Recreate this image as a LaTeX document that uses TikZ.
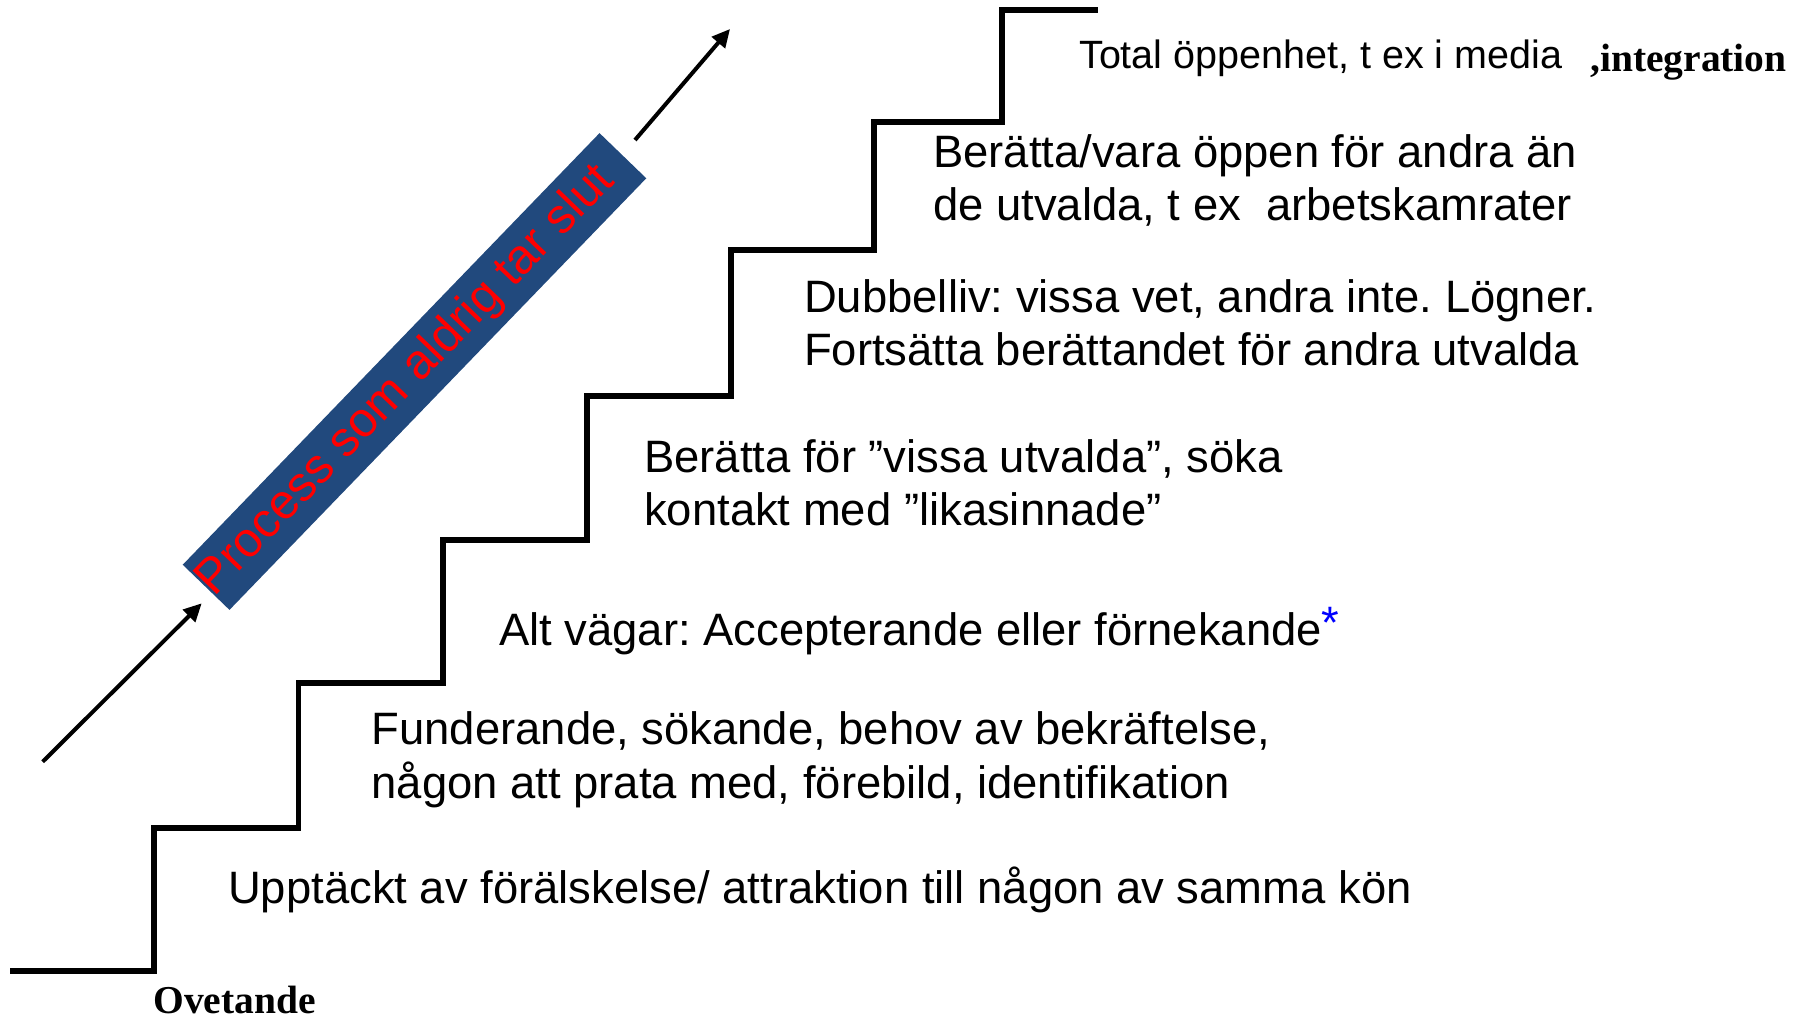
\documentclass[tikz,border=0pt]{standalone}
\usepackage{fontspec}
\setmainfont{Liberation Sans}
\newfontfamily\serifbold{Liberation Serif}[UprightFont=* Bold]
\usetikzlibrary{arrows.meta}
\definecolor{bannerblue}{RGB}{33,73,125}
\frenchspacing
\tikzset{
  stair/.style={line width=5.5pt, line join=miter, line cap=butt},
  arr/.style={line width=4pt, -{Triangle[length=18pt,width=17pt]}},
  txt/.style={anchor=base west, inner sep=0pt, align=left, font=\fontsize{45.4}{53.5}\selectfont\frenchspacing},
  smalltxt/.style={anchor=base west, inner sep=0pt, font=\fontsize{39.5}{47}\selectfont\frenchspacing},
  boldtxt/.style={anchor=base west, inner sep=0pt, font=\fontsize{39.5}{47}\serifbold},
  banner/.style={fill=bannerblue, rotate=46, minimum width=600pt, minimum height=65pt, inner sep=0pt},
  bannertext/.style={text=red, rotate=46, inner sep=0pt, font=\fontsize{49}{52}\selectfont}
}
\begin{document}
\begin{tikzpicture}[x=1pt,y=-1pt]
\useasboundingbox (0,0) rectangle (1803,1018);
% stairs
\draw[stair] (10,971) -- (154,971) -- (154,828) -- (298.5,828) -- (298.5,683) -- (443,683) -- (443,540) -- (587,540) -- (587,396) -- (731,396) -- (731,250) -- (874,250) -- (874,122) -- (1002,122) -- (1002,10) -- (1098,10);
% banner
\node[banner] (ban) at (414.5,371.5) {};
\node[bannertext] (bantxt) at (406,381) {Process som aldrig tar slut};
% arrows
\coordinate (a1s) at (42.7,761.7);
\coordinate (a1e) at (201.7,603.3);
\coordinate (a2s) at (635,140);
\coordinate (a2e) at (730,29);
\draw[arr] (a1s) -- (a1e);
\draw[arr] (a2s) -- (a2e);
% texts (multi-line nodes: base = last line's baseline)
\node[smalltxt] (t7) at (1079,68) {Total öppenhet, t ex i media};
\node[boldtxt] (integ) at (1590,71.5) {,integration};
\node[txt] (t6) at (933,220.5) {Berätta/vara öppen för andra än\\de utvalda, t ex\ \ arbetskamrater};
\node[txt] (t5) at (804,365.5) {Dubbelliv: vissa vet, andra inte. Lögner.\\Fortsätta berättandet för andra utvalda};
\node[txt] (t4) at (644,525.5) {Berätta för ”vissa utvalda”, söka\\kontakt med ”likasinnade”};
\node[txt] (t3) at (499,645) {Alt vägar: Accepterande eller förnekande\textcolor{blue}{\raisebox{7pt}{*}}};
\node[txt] (t2) at (371.5,798) {Funderande, sökande, behov av bekräftelse,\\någon att prata med, förebild, identifikation};
\node[txt] (t1) at (228,903) {Upptäckt av förälskelse/ attraktion till någon av samma kön};
\node[boldtxt] (ovet) at (153.3,1013) {Ovetande};
\end{tikzpicture}
\end{document}
